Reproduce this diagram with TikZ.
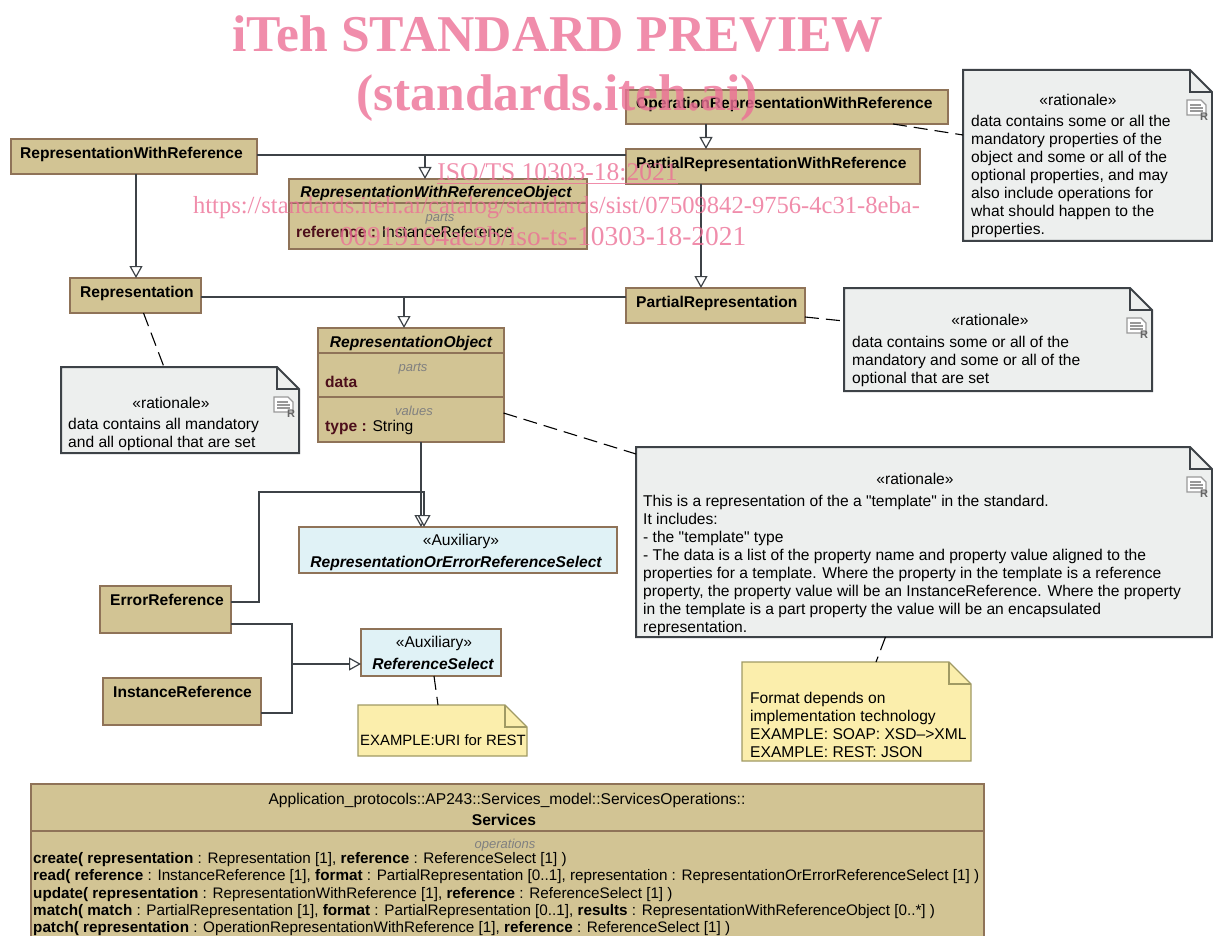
\documentclass[tikz,border=0pt]{standalone}
\usepackage{fontspec}
\setmainfont{Liberation Sans}[Ligatures=TeXOff]
\newfontfamily\stampfont{Liberation Serif}
\usetikzlibrary{arrows.meta}

\definecolor{classfill}{RGB}{210,196,148}
\definecolor{classedge}{RGB}{143,115,88}
\definecolor{auxfill}{RGB}{224,242,246}
\definecolor{notefill}{RGB}{237,239,238}
\definecolor{noteedge}{RGB}{61,66,71}
\definecolor{memofill}{RGB}{251,238,172}
\definecolor{memoedge}{RGB}{160,154,100}
\definecolor{attrname}{RGB}{77,15,27}
\definecolor{stamp}{RGB}{236,112,150}

% outline of a note with its folded corner
\newcommand{\notepath}[2]{
    \draw [#1] (#2.north west) -- ([xshift=-22]#2.north east) -- ([yshift=-22]#2.north east)
        -- (#2.south east) -- (#2.south west) -- cycle;
    \draw [#1, fill=none] ([xshift=-22]#2.north east) |- ([yshift=-22]#2.north east);
}

\begin{document}
\begin{tikzpicture}[x = 1pt, y = -1pt,
    font = \fontsize{15.6}{18}\selectfont,
    classbox/.style = {draw = classedge, fill = classfill, line width = 2pt, anchor = north west, outer sep = 0, inner sep = 0},
    auxbox/.style = {classbox, fill = auxfill},
    notebox/.style = {anchor = north west, outer sep = 0, inner sep = 0},
    noteline/.style = {draw = noteedge, fill = notefill, line width = 2pt},
    memoline/.style = {draw = memoedge, fill = memofill, line width = 1.3pt},
    classname/.style = {inner sep = 0, text height = 12.5pt, text depth = 1pt, font = \fontsize{15.6}{18}\selectfont\bfseries},
    italicname/.style = {classname, font = \fontsize{15.6}{18}\selectfont\bfseries\itshape},
    plaintext/.style = {inner sep = 0, text height = 12.5pt, text depth = 1pt},
    compartment/.style = {inner sep = 0, text height = 11pt, text depth = 1pt, text = gray, font = \fontsize{13}{14}\selectfont\itshape},
    notetext/.style = {anchor = north west, inner sep = 0, align = left},
    divider/.style = {draw = classedge, line width = 2.5pt},
    hollow/.style = {-{Triangle[open, fill = white, length = 12pt, width = 13pt, line width = 1.2pt]}},
    gen/.style = {draw = noteedge, line width = 1.5pt, hollow},
    assoc/.style = {draw = noteedge, line width = 1.1pt},
    notelink/.style = {black, line width = 1.1pt, dash pattern = on 14pt off 7pt},
    stamptext/.style = {anchor = base, inner sep = 0, text = stamp, opacity = 0.8},
    ricon/.pic = {
        \draw [draw = gray!80, fill = white, line width = 1.3pt] (0,0) -- (14,0) -- (19,5) -- (19,15) -- (0,15) -- cycle;
        \draw [gray!80, line width = 1.2pt] (3,5) -- (14,5) (3,8) -- (16,8) (3,11) -- (16,11);
        \node [inner sep = 0, text = gray!80!black, font = \fontsize{11}{11}\selectfont\bfseries] at (17,17) {R};
    }]
    \useasboundingbox (0,0) rectangle (1213,936);
    \clip (0,0) rectangle (1213,936);

    % classes in the upper part
    \node [classbox, minimum width = 246, minimum height = 35] (rwr) at (11,139) {};
    \node [classname, anchor = west] (rwrname) at (20,153) {RepresentationWithReference};
    \node [classbox, minimum width = 322, minimum height = 34] (orwr) at (626,90) {};
    \node [classname, anchor = west] (orwrname) at (636,103) {OperationRepresentationWithReference};
    \node [classbox, minimum width = 294, minimum height = 35] (prwr) at (626,149) {};
    \node [classname, anchor = west] (prwrname) at (636,163) {PartialRepresentationWithReference};
    \node [classbox, minimum width = 131, minimum height = 35] (rep) at (70,278) {};
    \node [classname, anchor = west] (repname) at (80,292) {Representation};
    \node [classbox, minimum width = 179, minimum height = 35] (pr) at (626,288) {};
    \node [classname, anchor = west] (prname) at (636,302) {PartialRepresentation};

    % object with a reference
    \node [classbox, minimum width = 298, minimum height = 70] (rwro) at (289,179) {};
    \draw [divider] (rwro.west |- 0,203) -- (rwro.east |- 0,203);
    \node [italicname] (rwrotitle) at (436,192) {RepresentationWithReferenceObject};
    \node [compartment] (rwroparts) at (440,217) {parts};
    \node [plaintext, anchor = west] (rwroref) at (296,232) {\textcolor{attrname}{\textbf{reference :}} InstanceReference};

    % object
    \node [classbox, minimum width = 185.5, minimum height = 114] (ro) at (318,328) {};
    \draw [divider] (ro.west |- 0,353) -- (ro.east |- 0,353);
    \draw [divider] (ro.west |- 0,397) -- (ro.east |- 0,397);
    \node [italicname] (rotitle) at (411,342) {RepresentationObject};
    \node [compartment] (roparts) at (413,366) {parts};
    \node [plaintext, anchor = west] (rodata) at (325,382) {\textcolor{attrname}{\textbf{data}}};
    \node [compartment] (rovalues) at (414,410) {values};
    \node [plaintext, anchor = west] (rotype) at (325,426) {\textcolor{attrname}{\textbf{type :}} String};

    % selects
    \node [auxbox, minimum width = 317.5, minimum height = 46] (aux) at (299,527) {};
    \node [plaintext] (auxtag) at (461,540) {«Auxiliary»};
    \node [italicname] (auxname) at (456,562) {RepresentationOrErrorReferenceSelect};
    \node [auxbox, minimum width = 140, minimum height = 47] (rs) at (361,629) {};
    \node [plaintext] (rstag) at (434,642) {«Auxiliary»};
    \node [italicname] (rsname) at (433,664) {ReferenceSelect};

    % references
    \node [classbox, minimum width = 131, minimum height = 47] (er) at (100,586) {};
    \node [classname, anchor = west] (ername) at (110,600) {ErrorReference};
    \node [classbox, minimum width = 158, minimum height = 47] (ir) at (103,678) {};
    \node [classname, anchor = west] (irname) at (113,692) {InstanceReference};

    % notes
    \node [notebox, minimum width = 249, minimum height = 171] (noteA) at (963,70) {};
    \notepath{noteline}{noteA}
    \node [plaintext] (noteAtag) at (1078,100) {«rationale»};
    \node [notetext] (noteAtext) at (971,114) {\strut data contains some or all the\\mandatory properties of the\\object and some or all of the\\optional properties, and may\\also include operations for\\what should happen to the\\properties.};
    \pic at (1187,100) {ricon};

    \node [notebox, minimum width = 308, minimum height = 103] (noteB) at (844,288) {};
    \notepath{noteline}{noteB}
    \node [plaintext] (noteBtag) at (990,320) {«rationale»};
    \node [notetext] (noteBtext) at (852,335) {\strut data contains some or all of the\\mandatory and some or all of the\\optional that are set};
    \pic at (1127,318) {ricon};

    \node [notebox, minimum width = 238, minimum height = 86] (noteC) at (61,367) {};
    \notepath{noteline}{noteC}
    \node [plaintext] (noteCtag) at (171,403) {«rationale»};
    \node [notetext] (noteCtext) at (68,417) {\strut data contains all mandatory\\and all optional that are set};
    \pic at (274,397) {ricon};

    \node [notebox, minimum width = 576, minimum height = 190] (noteD) at (636,447) {};
    \notepath{noteline}{noteD}
    \node [plaintext] (noteDtag) at (915,479) {«rationale»};
    \node [notetext] (noteDtext) at (643,494) {\strut This is a representation of the a "template" in the standard.\\It includes:\\- the "template" type\\- The data is a list of the property name and property value aligned to the\\properties for a template. Where the property in the template is a reference\\property, the property value will be an InstanceReference. Where the property\\in the template is a part property the value will be an encapsulated\\representation.};
    \pic at (1187,477) {ricon};

    \node [notebox, minimum width = 229, minimum height = 99] (memoA) at (742,662) {};
    \notepath{memoline}{memoA}
    \node [notetext] (memoAtext) at (750,691) {\strut Format depends on\\implementation technology\\EXAMPLE: SOAP: XSD–>XML\\EXAMPLE: REST: JSON};

    \node [notebox, minimum width = 169, minimum height = 51] (memoB) at (358,705) {};
    \notepath{memoline}{memoB}
    \node [notetext, font = \fontsize{14.9}{18}\selectfont] (memoBtext) at (360,733) {\strut EXAMPLE:URI for REST};

    % generalizations
    \coordinate (rwrjoin) at (425,155);
    \coordinate (repjoin) at (404,297);
    \coordinate (rwrdrop) at (136,200);
    \coordinate (orwrdrop) at (706,100);
    \coordinate (prwrdrop) at (701,200);
    \draw [assoc] (rwr.east |- rwrjoin) -- (prwr.west |- rwrjoin);
    \draw [gen] (rwrjoin) -- (rwrjoin |- rwro.north);
    \draw [gen] (rwrdrop |- rwr.south) -- (rwrdrop |- rep.north);
    \draw [gen] (orwrdrop |- orwr.south) -- (orwrdrop |- prwr.north);
    \draw [gen] (prwrdrop |- prwr.south) -- (prwrdrop |- pr.north);
    \draw [assoc] (rep.east |- repjoin) -- (pr.west |- repjoin);
    \draw [gen] (repjoin) -- (repjoin |- ro.north);

    % into the selects
    \coordinate (rodrop) at (421,480);
    \coordinate (erup) at (259,602);
    \coordinate (auxdrop) at (424,492);
    \coordinate (ertap) at (292,624);
    \coordinate (irtap) at (292,713);
    \coordinate (rsjoin) at (292,664);
    \draw [gen] (rodrop |- ro.south) -- (rodrop |- aux.north);
    \draw [assoc, hollow] (er.east |- erup) -- (erup) |- (auxdrop) -- (auxdrop |- aux.north);
    \draw [assoc] (er.east |- ertap) -- (ertap) -- (irtap) -- (ir.east |- irtap);
    \draw [gen] (rsjoin) -- (rs.west |- rsjoin);

    % links to the notes
    \draw [notelink] ([xshift=-55]orwr.south east) -- ([yshift=-65]noteA.north west);
    \draw [notelink] ([yshift=6]pr.south east) -- ([yshift=-33]noteB.north west);
    \draw [notelink] ([xshift=8]rep.south) -- ([xshift=-16]noteC.north);
    \draw [notelink] ([yshift=-85]ro.north east) -- ([yshift=-7]noteD.north west);
    \draw [notelink] ([xshift=-38.5]noteD.south) -- ([xshift=19.5]memoA.north);
    \draw [notelink] ([xshift=3]rs.south) -- ([xshift=-4.5]memoB.north);

    % services
    \node [classbox, minimum width = 953, minimum height = 170] (svc) at (31,784) {};
    \draw [divider] (svc.west |- 0,831) -- (svc.east |- 0,831);
    \node [plaintext] (svcpath) at (507,799) {Application\_protocols::AP243::Services\_model::ServicesOperations::};
    \node [classname] (svcname) at (504,820) {Services};
    \node [compartment] (svcops) at (505,843.5) {operations};
    \node [notetext, font = \fontsize{15.25}{17.2}\selectfont] (svcmethods) at (33,851.5) {\strut \textbf{create( representation} : Representation [1], \textbf{reference} : ReferenceSelect [1] )\\
        \textbf{read( reference} : InstanceReference [1], \textbf{format} : PartialRepresentation [0..1], representation : RepresentationOrErrorReferenceSelect [1] )\\
        \textbf{update( representation} : RepresentationWithReference [1], \textbf{reference} : ReferenceSelect [1] )\\
        \textbf{match( match} : PartialRepresentation [1], \textbf{format} : PartialRepresentation [0..1], \textbf{results} : RepresentationWithReferenceObject [0..*] )\\
        \textbf{patch( representation} : OperationRepresentationWithReference [1], \textbf{reference} : ReferenceSelect [1] )};

    % stamp over everything
    \node [stamptext, font = \fontsize{51.6}{52}\selectfont\stampfont\bfseries] (stampA) at (558,52) {iTeh STANDARD PREVIEW};
    \node [stamptext, font = \fontsize{51.6}{52}\selectfont\stampfont\bfseries] (stampB) at (557,111) {(standards.iteh.ai)};
    \node [stamptext, font = \fontsize{25.5}{27}\selectfont\stampfont] (stampC) at (557.5,181) {\underline{ISO/TS 10303-18:2021}};
    \node [stamptext, font = \fontsize{24.6}{27}\selectfont\stampfont] (stampD) at (556.5,214) {https://standards.iteh.ai/catalog/standards/sist/07509842-9756-4c31-8eba-};
    \node [stamptext, font = \fontsize{27.4}{27}\selectfont\stampfont] (stampE) at (543,246) {00919164ac9b/iso-ts-10303-18-2021};
\end{tikzpicture}
\end{document}
